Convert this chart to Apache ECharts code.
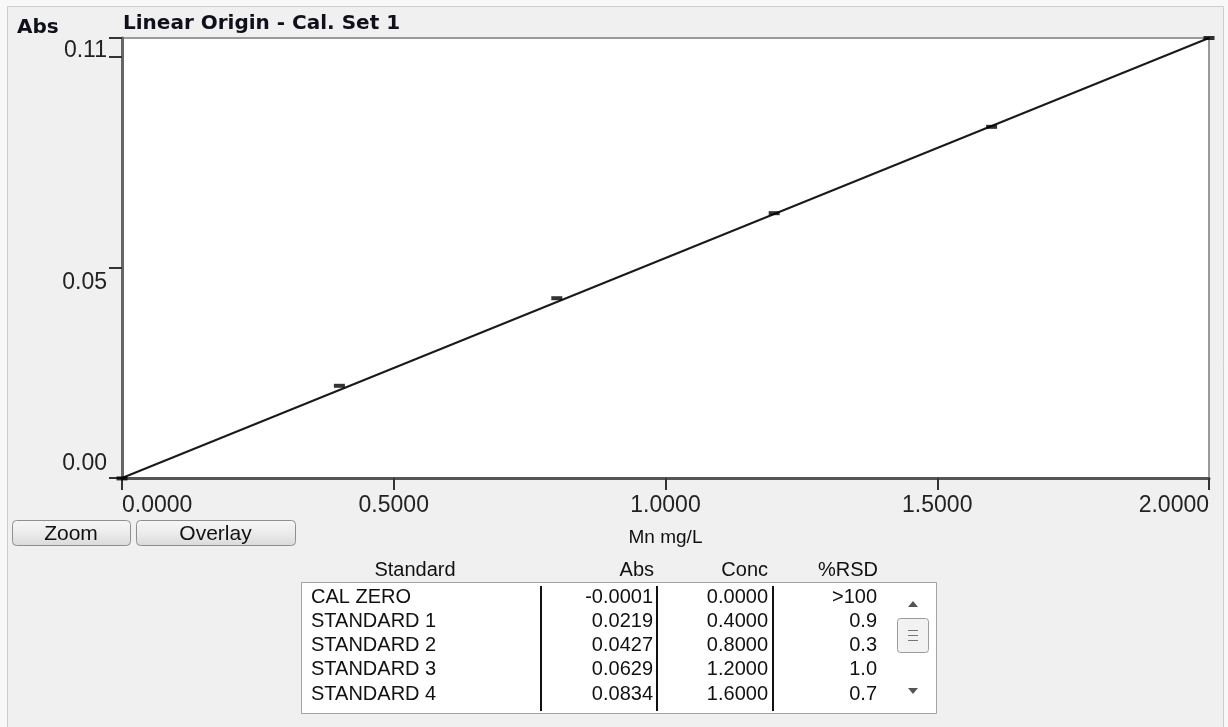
<!DOCTYPE html>
<html>
<head>
<meta charset="utf-8">
<script src="https://cdn.jsdelivr.net/npm/echarts@6/dist/echarts.min.js"></script>
<style>
html,body{margin:0;padding:0;background:#f8f8f8;}
#c{width:1228px;height:727px;}
</style>
</head>
<body>
<div id="c"></div>
<script>
// ---- data ----
const standardNames = ['CAL ZERO', 'STANDARD 1', 'STANDARD 2', 'STANDARD 3', 'STANDARD 4'];
const standardAbs = [-0.0001, 0.0219, 0.0427, 0.0629, 0.0834];
const standardConc = [0.0, 0.4, 0.8, 1.2, 1.6];
const standardRsd = ['>100', '0.9', '0.3', '1.0', '0.7'];
// last standard (2.0 mg/L) visible only as a point at the top right
const extraConc = [2.0];
const extraAbs = [0.1045];
// calibration line (linear through origin), end points
const fitConc = [0.0, 2.0];
const fitAbs = [0.0, 0.1045];
const yTickValues = [0, 0.05, 0.1045];
const yTickLabels = ['0.00', '0.05', '0.11'];
const xTickLabelDigits = 4;
const tableHeaders = ['Standard', 'Abs', 'Conc', '%RSD'];
const titleText = 'Linear Origin - Cal. Set 1';
const yName = 'Abs';
const xName = 'Mn mg/L';
const buttons = ['Zoom', 'Overlay'];

// ---- chart ----
const chart = echarts.init(document.getElementById('c'), null, {renderer: 'canvas'});
const ptsData = standardConc.map((c, i) => [c, standardAbs[i]])
  .concat(extraConc.map((c, i) => [c, extraAbs[i]]));
const fitData = fitConc.map((c, i) => [c, fitAbs[i]]);
const yMax = fitAbs[fitAbs.length - 1];

const FONT = 'Liberation Sans, Arial, sans-serif';
const graphics = [];
// panel
graphics.push({type: 'rect', z: -10, shape: {x: 7.5, y: 6.5, width: 1216, height: 730},
  style: {fill: '#f0f0f0', stroke: '#cdcdcd', lineWidth: 1}, silent: true});
// buttons
const btnBoxes = [[12, 520, 118, 25], [136, 520, 159, 25]];
buttons.forEach((b, i) => {
  const bx = btnBoxes[i];
  graphics.push({type: 'rect', shape: {x: bx[0] + 0.5, y: bx[1] + 0.5, width: bx[2], height: bx[3], r: 4},
    style: {fill: new echarts.graphic.LinearGradient(0, 0, 0, 1, [{offset: 0, color: '#f7f7f7'}, {offset: 0.5, color: '#ececec'}, {offset: 1, color: '#d9d9d9'}]),
      stroke: '#8f8f8f', lineWidth: 1}});
  graphics.push({type: 'text', x: bx[0] + bx[2] / 2, y: bx[1] + 14,
    style: {text: b, font: '21px ' + FONT, fill: '#111', align: 'center', verticalAlign: 'middle'}});
});
// table
const tb = {x: 301, y: 582, w: 635, h: 131};
graphics.push({type: 'rect', shape: {x: tb.x + 0.5, y: tb.y + 0.5, width: tb.w, height: tb.h},
  style: {fill: '#ffffff', stroke: '#a3a3a3', lineWidth: 1}});
const headerX = [415, 654, 768, 878];
const headerAlign = ['center', 'right', 'right', 'right'];
tableHeaders.forEach((h, i) => {
  graphics.push({type: 'text', x: headerX[i], y: 570,
    style: {text: h, font: '20px ' + FONT, fill: '#111', align: headerAlign[i], verticalAlign: 'middle'}});
});
[541, 657, 773].forEach(x => {
  graphics.push({type: 'line', shape: {x1: x, y1: 586, x2: x, y2: 711}, style: {stroke: '#111', lineWidth: 2}});
});
const rowY0 = 597, rowH = 24.3;
standardNames.forEach((n, i) => {
  const y = rowY0 + i * rowH;
  const cells = [n, standardAbs[i].toFixed(4), standardConc[i].toFixed(4), standardRsd[i]];
  const xs = [311, 653, 768, 877];
  const al = ['left', 'right', 'right', 'right'];
  cells.forEach((t, j) => {
    graphics.push({type: 'text', x: xs[j], y: y,
      style: {text: t, font: '20px ' + FONT, fill: '#111', align: al[j], verticalAlign: 'middle'}});
  });
});
// scrollbar
graphics.push({type: 'polygon', shape: {points: [[908, 607], [918, 607], [913, 601]]}, style: {fill: '#555'}});
graphics.push({type: 'polygon', shape: {points: [[908, 688], [918, 688], [913, 694]]}, style: {fill: '#555'}});
graphics.push({type: 'rect', shape: {x: 897.5, y: 618.5, width: 31, height: 34, r: 3},
  style: {fill: '#f2f2f2', stroke: '#9a9a9a', lineWidth: 1}});
[630, 635, 640].forEach(y => {
  graphics.push({type: 'line', shape: {x1: 908, y1: y + 0.5, x2: 918, y2: y + 0.5}, style: {stroke: '#777', lineWidth: 1}});
});

const yLabelFmt = function (v) {
  for (let i = 0; i < yTickValues.length; i++) {
    if (Math.abs(v - yTickValues[i]) < 1e-7) {
      return '{' + ['lo', 'mid', 'hi'][i] + '|' + yTickLabels[i] + '}';
    }
  }
  return '';
};

chart.setOption({
  animation: false,
  backgroundColor: 'transparent',
  title: [
    {text: titleText, left: 118, top: 9, textStyle: {fontFamily: 'DejaVu Sans', fontWeight: 'bold', fontSize: 20, color: '#10101c'}},
    {text: yName, left: 12, top: 13, textStyle: {fontFamily: 'DejaVu Sans', fontWeight: 'bold', fontSize: 20, color: '#10101c'}}
  ],
  grid: {left: 122, right: 19, top: 38, bottom: 249, show: true, backgroundColor: '#ffffff', borderColor: '#9a9a9a', borderWidth: 2},
  xAxis: {
    type: 'value', min: 0, max: 2, interval: 0.5,
    name: xName, nameLocation: 'middle', nameGap: 50,
    nameTextStyle: {fontFamily: FONT, fontSize: 19, color: '#111'},
    axisLine: {show: true, onZero: false, lineStyle: {color: '#555', width: 3}},
    axisTick: {show: true, length: 12, lineStyle: {color: '#333', width: 2}},
    axisLabel: {fontFamily: FONT, fontSize: 23, color: '#222', margin: 16,
      alignMinLabel: 'left', alignMaxLabel: 'right',
      formatter: v => v.toFixed(xTickLabelDigits)},
    splitLine: {show: false}
  },
  yAxis: {
    type: 'value', min: 0, max: yMax, interval: 0.05,
    axisLine: {show: true, onZero: false, lineStyle: {color: '#666', width: 3}},
    axisTick: {show: true, length: 13, lineStyle: {color: '#333', width: 2}},
    axisLabel: {fontFamily: FONT, fontSize: 23, color: '#222', margin: 15,
      showMinLabel: true, showMaxLabel: true,
      formatter: yLabelFmt,
      rich: {
        lo: {fontFamily: FONT, fontSize: 23, color: '#222', padding: [0, 0, 28, 0]},
        mid: {fontFamily: FONT, fontSize: 23, color: '#222', padding: [30, 0, 0, 0]},
        hi: {fontFamily: FONT, fontSize: 23, color: '#222', padding: [26, 0, 0, 0]}
      }},
    splitLine: {show: false}
  },
  series: [
    {type: 'line', data: fitData, showSymbol: false, symbol: 'none', clip: false,
      lineStyle: {color: '#1a1a1a', width: 2}, z: 2},
    {type: 'scatter', data: ptsData, symbol: 'rect', symbolSize: [11, 4], clip: false,
      itemStyle: {color: '#000'}, z: 3}
  ],
  graphic: graphics
});
</script>
</body>
</html>
